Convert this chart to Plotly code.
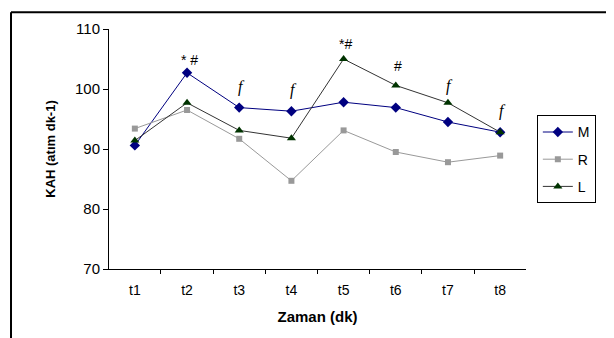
import plotly.graph_objects as go

categories = ["t1", "t2", "t3", "t4", "t5", "t6", "t7", "t8"]
M = [90.6, 102.7, 96.9, 96.3, 97.8, 96.9, 94.5, 92.8]
R = [93.4, 96.5, 91.7, 84.7, 93.1, 89.5, 87.8, 88.9]
L = [91.4, 97.7, 93.1, 91.8, 105.0, 100.6, 97.7, 92.8]

# significance marks: (category index, series, label, pixel shift)
marks = [(1, "M", "* #", 13), (2, "M", "f", 21), (3, "M", "f", 21),
         (4, "L", "*#", 15), (5, "L", "#", 19), (6, "L", "f", 17), (7, "L", "f", 21)]

font = "Liberation Sans, Arial, sans-serif"
fig = go.Figure()
fig.add_trace(go.Scatter(x=categories, y=M, name="M", mode="lines+markers", legendgroup="M",
                         line=dict(color="#000080", width=1),
                         marker=dict(symbol="diamond", size=8, color="#000080")))
fig.add_trace(go.Scatter(x=categories, y=R, name="R", mode="lines+markers", legendgroup="R",
                         line=dict(color="#999999", width=1),
                         marker=dict(symbol="square", size=6, color="#999999")))
fig.add_trace(go.Scatter(x=categories, y=L, name="L", mode="lines+markers", legendgroup="L",
                         line=dict(color="#333333", width=1),
                         marker=dict(symbol="triangle-up", size=8, color="#003300")))

series = {"M": M, "R": R, "L": L}
anns = []
for i, s, txt, sh in marks:
    if txt == "f":
        t = "<i>f</i>"
        f = dict(family="Liberation Serif, serif", size=16, color="black")
    else:
        t = txt
        f = dict(family=font, size=14, color="black")
    anns.append(dict(x=categories[i], y=series[s][i], text=t, showarrow=False,
                     yshift=sh, xshift=2, font=f))

fig.update_layout(
    width=614, height=338,
    margin=dict(l=101, r=96, t=18, b=77),
    paper_bgcolor="white", plot_bgcolor="white",
    font=dict(family=font, size=14, color="black"),
    showlegend=True,
    legend=dict(x=1.026, y=0.64, xanchor="left", yanchor="top",
                bordercolor="black", borderwidth=1, bgcolor="white",
                font=dict(size=14), tracegroupgap=6, itemwidth=30),
    xaxis=dict(type="category", showline=True, linecolor="black", linewidth=1,
               ticks="outside", ticklen=4, tickson="boundaries", tickcolor="black",
               showgrid=False, zeroline=False, tickfont=dict(size=14),
               ticklabelstandoff=8,
               title=dict(text="<b>Zaman (dk)</b>", standoff=14, font=dict(size=15))),
    yaxis=dict(range=[70, 110], dtick=10, showline=True, linecolor="black", linewidth=1,
               ticks="outside", ticklen=5, tickcolor="black",
               showgrid=False, zeroline=False, tickfont=dict(size=15),
               title=dict(text="<b>KAH (atım dk-1)</b>", standoff=16, font=dict(size=13))),
    annotations=anns,
    shapes=[
        dict(type="line", xref="paper", yref="paper", x0=-0.235, x1=1.25,
             y0=1.07, y1=1.07, line=dict(color="black", width=2)),
        dict(type="line", xref="paper", yref="paper", x0=-0.235, x1=-0.235,
             y0=1.07, y1=-0.35, line=dict(color="black", width=2)),
    ],
)
fig.write_html("out.html")
